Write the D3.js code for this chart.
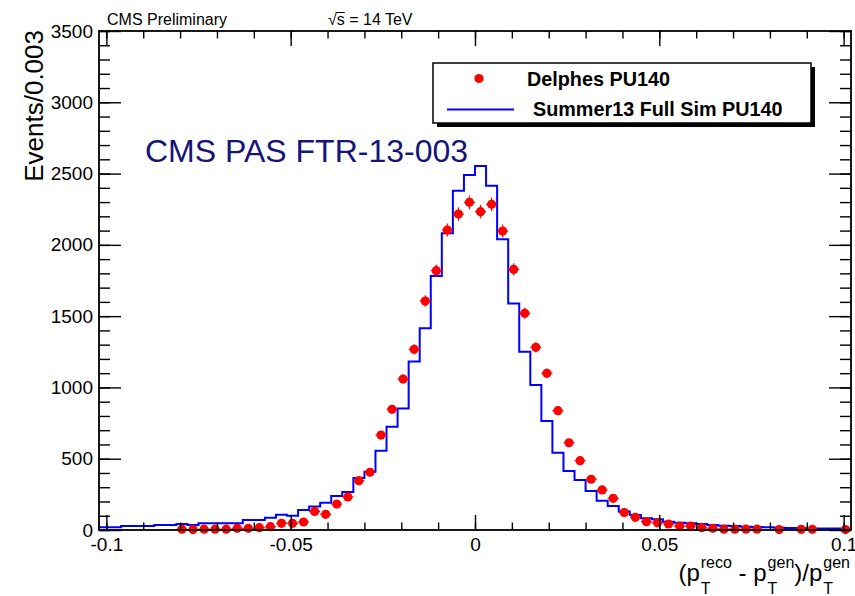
<!DOCTYPE html>
<html>
<head>
<meta charset="utf-8">
<script src="https://cdn.jsdelivr.net/npm/d3@7"></script>
<style>
  body { margin: 0; background: #fff; }
  text { font-family: "Liberation Sans", Arial, Helvetica, sans-serif; }
</style>
</head>
<body>
<svg id="chart" width="855" height="596"></svg>
<script>
// histogram binning: 68 bins of 0.003 from -0.102
const binLow = -0.102;
const binWidth = 0.003;

// Summer13 Full Sim PU140 (blue histogram), events per bin
const fullSim = [
  19, 19, 28, 28, 28, 35, 35, 42, 35, 47,
  47, 47, 47, 70, 70, 86, 107, 100, 140, 165,
  192, 238, 266, 365, 409, 556, 725, 853, 1182, 1415,
  1782, 2081, 2380, 2490, 2553, 2415, 2039, 1588, 1251, 1017,
  765, 542, 414, 351, 274, 206, 168, 129, 105, 82,
  75, 58, 51, 47, 42, 35, 30, 28, 23, 21,
  19, 16, 14, 12, 11, 10, 10, 9
];

// Delphes PU140 (red points), null = empty bin
const delphes = [
  null, null, null, null, null, null, null, 6, 3, 6,
  6, 6, 12, 12, 16, 23, 47, 47, 56, 130,
  110, 182, 232, 346, 405, 666, 847, 1059, 1267, 1606,
  1819, 2104, 2216, 2298, 2233, 2284, 2097, 1828, 1520, 1281,
  1099, 837, 612, 486, 356, 281, 222, 122, 89, 58,
  50, 42, 28, 28, 16, 12, 6, 6, 6, 6,
  null, 3, null, 5, 5, null, null, 3
];

const xMajorTicks = [-0.1, -0.05, 0, 0.05, 0.1];
const xTickLabels = ["-0.1", "-0.05", "0", "0.05", "0.1"];
const yMajorTicks = [0, 500, 1000, 1500, 2000, 2500, 3000, 3500];
const yTickLabels = ["0", "500", "1000", "1500", "2000", "2500", "3000", "3500"];

const legendItems = [
  { label: "Delphes PU140", kind: "point" },
  { label: "Summer13 Full Sim PU140", kind: "line" }
];

const svg = d3.select("#chart");
const F = { l: 99, r: 851, t: 31, b: 530 };

const x = d3.scaleLinear().domain([binLow, binLow + binWidth * fullSim.length]).range([F.l, F.r]);
const y = d3.scaleLinear().domain([0, 3500]).range([F.b, F.t]);

svg.append("rect").attr("width", 855).attr("height", 596).attr("fill", "#fff");

// ---- blue histogram
const steps = fullSim.map((v, i) => [binLow + i * binWidth, v]);
steps.push([binLow + fullSim.length * binWidth, fullSim[fullSim.length - 1]]);
svg.append("path")
  .attr("d", d3.line().x(d => x(d[0])).y(d => y(d[1])).curve(d3.curveStepAfter)(steps))
  .attr("fill", "none")
  .attr("stroke", "#0000ff")
  .attr("stroke-width", 2);

// ---- red points with errors
const pts = delphes.map((v, i) => ({ c: binLow + (i + 0.5) * binWidth, v }))
  .filter(d => d.v !== null);
const pg = svg.append("g");
pg.selectAll("line.ey").data(pts).enter().append("line")
  .attr("x1", d => x(d.c)).attr("x2", d => x(d.c))
  .attr("y1", d => y(d.v + Math.sqrt(d.v))).attr("y2", d => y(Math.max(0, d.v - Math.sqrt(d.v))))
  .attr("stroke", "#ff0000").attr("stroke-width", 1.2);
pg.selectAll("line.ex").data(pts).enter().append("line")
  .attr("x1", d => x(d.c - binWidth / 2)).attr("x2", d => x(d.c + binWidth / 2))
  .attr("y1", d => y(d.v)).attr("y2", d => y(d.v))
  .attr("stroke", "#ff0000").attr("stroke-width", 1.2);
pg.selectAll("circle").data(pts).enter().append("circle")
  .attr("cx", d => x(d.c)).attr("cy", d => y(d.v)).attr("r", 4.6)
  .attr("fill", "#ff0000");

// ---- axes (ticks inside, mirrored on top/right)
function styleAxis(g) {
  g.select(".domain").remove();
  g.selectAll("line").attr("stroke", "#000").attr("stroke-width", 1.4);
  g.attr("font-family", "Liberation Sans, Arial, sans-serif").attr("font-size", 19);
  g.selectAll("text").attr("fill", "#000");
}
const xMinor = d3.range(-10, 11).map(k => k / 100);
const yMinor = d3.range(0, 3501, 100);

svg.append("g").attr("transform", `translate(0,${F.b})`)
  .call(d3.axisBottom(x).tickValues(xMinor).tickFormat("").tickSizeInner(-7.5).tickSizeOuter(0)).call(styleAxis);
svg.append("g").attr("transform", `translate(0,${F.b})`)
  .call(d3.axisBottom(x).tickValues(xMajorTicks).tickFormat((d, i) => xTickLabels[i])
    .tickSizeInner(-15).tickSizeOuter(0).tickPadding(8)).call(styleAxis);
svg.append("g").attr("transform", `translate(0,${F.t})`)
  .call(d3.axisTop(x).tickValues(xMinor).tickFormat("").tickSizeInner(-7.5).tickSizeOuter(0)).call(styleAxis);
svg.append("g").attr("transform", `translate(0,${F.t})`)
  .call(d3.axisTop(x).tickValues(xMajorTicks).tickFormat("").tickSizeInner(-15).tickSizeOuter(0)).call(styleAxis);

svg.append("g").attr("transform", `translate(${F.l},0)`)
  .call(d3.axisLeft(y).tickValues(yMinor).tickFormat("").tickSizeInner(-11).tickSizeOuter(0)).call(styleAxis);
svg.append("g").attr("transform", `translate(${F.l},0)`)
  .call(d3.axisLeft(y).tickValues(yMajorTicks).tickFormat((d, i) => yTickLabels[i])
    .tickSizeInner(-22).tickSizeOuter(0).tickPadding(6)).call(styleAxis);
svg.append("g").attr("transform", `translate(${F.r},0)`)
  .call(d3.axisRight(y).tickValues(yMinor).tickFormat("").tickSizeInner(-11).tickSizeOuter(0)).call(styleAxis);
svg.append("g").attr("transform", `translate(${F.r},0)`)
  .call(d3.axisRight(y).tickValues(yMajorTicks).tickFormat("").tickSizeInner(-22).tickSizeOuter(0)).call(styleAxis);

// frame
svg.append("rect").attr("x", F.l).attr("y", F.t).attr("width", F.r - F.l).attr("height", F.b - F.t)
  .attr("fill", "none").attr("stroke", "#000").attr("stroke-width", 1.8);

// ---- axis titles
svg.append("text")
  .attr("transform", `translate(43,${F.t - 1}) rotate(-90)`)
  .attr("text-anchor", "end")
  .attr("font-size", 26)
  .text("Events/0.003");

const xt = svg.append("g");
const pieces = [
  { t: "(p" }, { sub: "T", sup: "reco" }, { t: " - p" }, { sub: "T", sup: "gen" },
  { t: ")/p" }, { sub: "T", sup: "gen" }
];
let cx = 0;
pieces.forEach(p => {
  if (p.t) {
    const n = xt.append("text").attr("x", cx).attr("y", 0).attr("font-size", 24)
      .attr("xml:space", "preserve").style("white-space", "pre").text(p.t);
    cx += n.node().getComputedTextLength();
  } else {
    const a = xt.append("text").attr("x", cx + 1).attr("y", 13).attr("font-size", 16).text(p.sub);
    const b = xt.append("text").attr("x", cx + 1).attr("y", -13).attr("font-size", 16).text(p.sup);
    cx += 1 + Math.max(a.node().getComputedTextLength(), b.node().getComputedTextLength());
  }
});
xt.attr("transform", `translate(${850 - cx},581)`);

// ---- header texts
svg.append("text").attr("x", 107).attr("y", 25).attr("font-size", 16).text("CMS Preliminary");
const sq = svg.append("text").attr("x", 328).attr("y", 25).attr("font-size", 16).text("\u221As = 14 TeV");
{
  const n = sq.node();
  const w0 = n.getSubStringLength(0, 1), w1 = n.getSubStringLength(1, 1);
  svg.append("line").attr("x1", 328 + w0 - 1).attr("x2", 328 + w0 + w1)
    .attr("y1", 12.5).attr("y2", 12.5).attr("stroke", "#000").attr("stroke-width", 1);
}

svg.append("text").attr("x", 145).attr("y", 162).attr("font-size", 32)
  .attr("fill", "#14147a").text("CMS PAS FTR-13-003");

// ---- legend
const L = { x: 433, y: 63, w: 378, h: 60 };
svg.append("rect").attr("x", L.x + 4).attr("y", L.y + 4).attr("width", L.w).attr("height", L.h).attr("fill", "#000");
svg.append("rect").attr("x", L.x).attr("y", L.y).attr("width", L.w).attr("height", L.h)
  .attr("fill", "#fff").attr("stroke", "#000").attr("stroke-width", 1.5);
legendItems.forEach((it, i) => {
  const yy = L.y + 15.5 + i * 31;
  if (it.kind === "point") {
    svg.append("circle").attr("cx", 479).attr("cy", yy).attr("r", 4.6).attr("fill", "#ff0000");
    svg.append("text").attr("x", 527).attr("y", yy + 7).attr("font-size", 19.8).attr("font-weight", "bold").text(it.label);
  } else {
    svg.append("line").attr("x1", 447).attr("x2", 514).attr("y1", yy).attr("y2", yy)
      .attr("stroke", "#0000ff").attr("stroke-width", 2);
    svg.append("text").attr("x", 533).attr("y", yy + 6.5).attr("font-size", 19.8).attr("font-weight", "bold").text(it.label);
  }
});
</script>
</body>
</html>
